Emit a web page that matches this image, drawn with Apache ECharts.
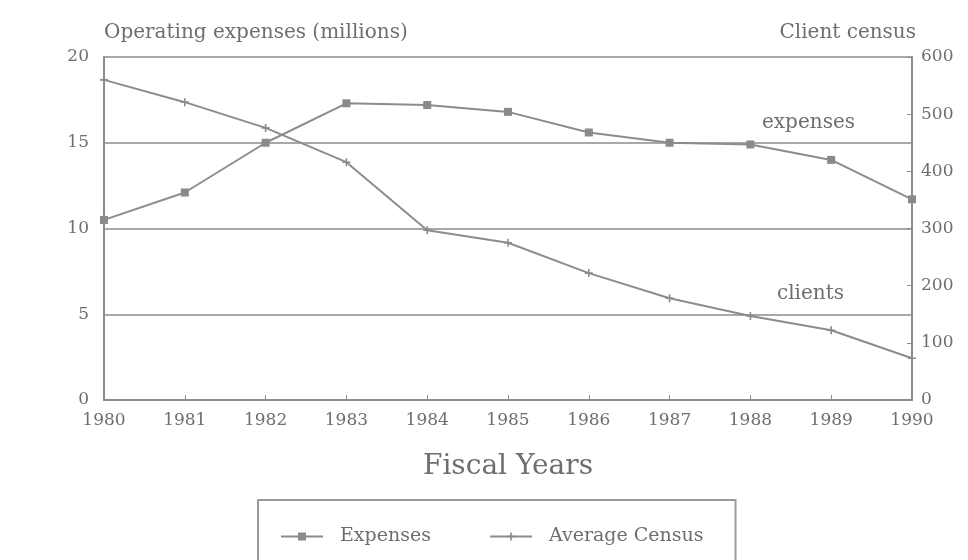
<!DOCTYPE html>
<html>
<head>
<meta charset="utf-8">
<script src="https://cdn.jsdelivr.net/npm/echarts@6/dist/echarts.min.js"></script>
<style>html,body{margin:0;padding:0;background:#fff;}#c{width:968px;height:560px;}</style>
</head>
<body>
<div id="c"></div>
<script>
var years = ['1980','1981','1982','1983','1984','1985','1986','1987','1988','1989','1990'];
var expenses = [10.5, 12.1, 15.0, 17.3, 17.2, 16.8, 15.6, 15.0, 14.9, 14.0, 11.7];
var census = [560, 521, 476, 416, 297, 275, 222, 178, 147, 122, 73];

var FONT = '"DejaVu Serif", "Liberation Serif", serif';
var TXT = '#6e6e6e';
var LINE = '#8c8c8c';
var plusPath = 'path://M4,0L6,0L6,4L10,4L10,6L6,6L6,10L4,10L4,6L0,6L0,4L4,4Z';

var chart = echarts.init(document.getElementById('c'));
chart.setOption({
  backgroundColor: '#ffffff',
  animation: false,
  grid: { left: 104, right: 56, top: 57, bottom: 160 },
  legend: {
    data: ['Expenses', 'Average Census'],
    left: 258, top: 500,
    padding: [27, 32, 40, 22],
    itemGap: 58,
    itemWidth: 42, itemHeight: 10,
    borderColor: '#9a9a9a', borderWidth: 2,
    textStyle: { fontFamily: FONT, fontSize: 19, color: TXT, padding: [0, 0, 0, 12] }
  },
  xAxis: {
    type: 'category', data: years, boundaryGap: false,
    name: 'Fiscal Years', nameLocation: 'middle', nameGap: 53,
    nameTextStyle: { fontFamily: FONT, fontSize: 28, color: TXT },
    axisLine: { lineStyle: { color: LINE, width: 2 } },
    axisTick: { inside: true, length: 5, lineStyle: { color: LINE } },
    axisLabel: { fontFamily: FONT, fontSize: 17, color: TXT, margin: 12 }
  },
  yAxis: [{
    type: 'value', min: 0, max: 20, interval: 5,
    name: 'Operating expenses (millions)', nameLocation: 'end', nameGap: 14,
    nameTextStyle: { fontFamily: FONT, fontSize: 20, color: TXT, align: 'left', padding: [0,0,0,0] },
    axisLine: { show: true, lineStyle: { color: LINE, width: 2 } },
    axisTick: { show: false },
    axisLabel: { fontFamily: FONT, fontSize: 17, color: TXT, margin: 15 },
    splitLine: { show: true, lineStyle: { color: '#a8a8a8', width: 2 } }
  }, {
    type: 'value', min: 0, max: 600, interval: 100, position: 'right',
    name: 'Client census', nameLocation: 'end', nameGap: 14,
    nameTextStyle: { fontFamily: FONT, fontSize: 20, color: TXT, align: 'right', padding: [0,-4,0,0] },
    axisLine: { show: true, lineStyle: { color: LINE, width: 2 } },
    axisTick: { show: true, inside: true, length: 5, lineStyle: { color: LINE } },
    axisLabel: { fontFamily: FONT, fontSize: 17, color: TXT, margin: 9 },
    splitLine: { show: false }
  }],
  series: [{
    name: 'Expenses', type: 'line', yAxisIndex: 0, data: expenses,
    symbol: 'rect', symbolSize: 8,
    itemStyle: { color: '#8a8a8a' },
    lineStyle: { color: LINE, width: 2 }
  }, {
    name: 'Average Census', type: 'line', yAxisIndex: 1, data: census,
    symbol: plusPath, symbolSize: 8,
    itemStyle: { color: '#8a8a8a' },
    lineStyle: { color: LINE, width: 2 }
  }],
  graphic: [
    { type: 'text', left: 762, top: 113, style: { text: 'expenses', fontFamily: FONT, fontSize: 20, fill: TXT } },
    { type: 'text', left: 777, top: 284, style: { text: 'clients', fontFamily: FONT, fontSize: 20, fill: TXT } }
  ]
});
</script>
</body>
</html>
